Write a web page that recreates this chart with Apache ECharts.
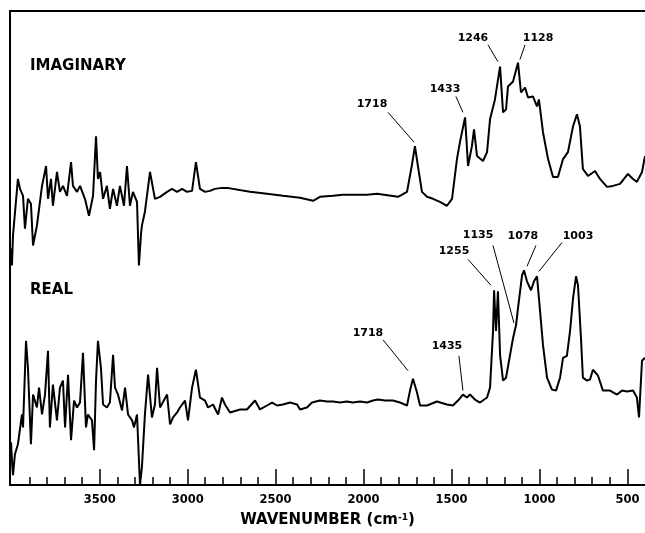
<!DOCTYPE html>
<html><head><meta charset="utf-8">
<script src="https://cdn.jsdelivr.net/npm/echarts/dist/echarts.min.js"></script>
<style>html,body{margin:0;padding:0;background:#fff}#c{width:645px;height:533px}</style>
</head><body><div id="c"></div>
<script>
// Wavenumber tick labels (cm-1)
const majorTicks = [3500, 3000, 2500, 2000, 1500, 1000, 500];
const minorTicks = [3900,3800,3700,3600,3400,3300,3200,3100,2900,2800,2700,2600,2400,2300,2200,2100,1900,1800,1700,1600,1400,1300,1200,1100,900,800,700,600];

// IMAGINARY trace: wavenumber and relative intensity
const imagWn = [4004,3999,3993,3982,3965,3953,3936,3925,3908,3891,
3879,3857,3828,3805,3794,3777,3766,3743,3726,3709,
3686,3663,3652,3629,3612,3584,3561,3538,3521,3510,
3498,3481,3459,3442,3424,3402,3385,3362,3345,3328,
3311,3288,3277,3265,3260,3243,3214,3186,3157,3117,
3089,3060,3032,3004,2975,2953,2930,2901,2873,2845,
2805,2776,2646,2549,2458,2361,2287,2248,2174,2117,
1980,1924,1804,1753,1726,1708,1691,1668,1639,1605,
1566,1526,1497,1469,1452,1423,1406,1384,1372,1355,
1321,1298,1281,1253,1224,1207,1190,1179,1150,1122,
1105,1082,1065,1037,1014,1003,980,951,923,895,
866,838,809,787,770,753,724,684,656,616,
582,542,497,468,446,417,400];
const imagVal = [238,221,251,253,308,298,291,258,288,283,
241,261,301,321,288,308,281,315,295,301,
291,325,301,295,301,288,271,291,351,308,
315,288,301,278,298,281,301,281,321,281,
295,285,221,253,261,275,315,288,290,295,
298,295,298,295,296,325,298,295,296,298,
299,299,295,293,291,289,286,290,291,292,
292,293,290,295,321,341,321,295,290,288,
285,281,288,328,345,370,321,341,358,331,
326,335,368,388,421,375,378,401,406,425,
395,400,390,391,381,388,355,328,310,310,
328,335,361,373,361,318,311,316,308,300,
301,303,313,308,305,315,331];

// REAL trace
const realWn = [4004,3999,3993,3982,3965,3942,3936,3919,3908,3891,
3879,3857,3845,3828,3811,3794,3783,3766,3743,3726,
3709,3697,3680,3663,3646,3629,3612,3595,3578,3567,
3544,3532,3521,3510,3493,3481,3459,3442,3424,3413,
3396,3373,3356,3339,3316,3305,3288,3271,3260,3243,
3225,3203,3186,3174,3157,3117,3100,3083,3060,3044,
3015,2998,2975,2953,2930,2901,2884,2856,2827,2805,
2788,2759,2702,2663,2617,2589,2549,2520,2492,2458,
2418,2378,2361,2322,2293,2248,2208,2174,2134,2095,
2060,2020,1980,1946,1918,1878,1833,1793,1753,1736,
1719,1696,1679,1639,1583,1526,1492,1463,1435,1412,
1395,1367,1338,1298,1281,1264,1258,1247,1236,1224,
1207,1190,1173,1150,1133,1122,1099,1088,1071,1048,
1031,1014,1003,980,957,929,906,883,866,844,
826,809,792,781,764,753,730,713,696,667,
639,599,559,531,503,468,446,434,417,400];
const realVal = [43,25,10,31,41,71,58,145,118,41,
91,78,98,71,91,135,58,101,65,98,
105,58,111,45,85,78,83,133,58,71,
65,35,105,145,118,81,78,83,131,98,
91,75,98,71,65,58,71,0,18,71,
111,68,81,118,78,91,61,68,73,78,
85,65,98,116,88,85,78,81,71,88,
81,73,76,76,85,76,80,83,80,81,
83,81,76,78,83,85,84,84,83,84,
83,84,83,85,86,85,85,83,80,95,
107,93,80,80,84,81,80,85,91,88,
91,86,83,88,98,155,196,155,195,131,
105,108,125,148,161,178,211,216,205,196,
205,210,188,141,108,96,95,108,128,130,
155,188,210,201,148,108,105,106,116,110,
95,95,91,95,94,95,88,68,125,128];

// Peak annotations (text, anchor in data units, leader line in data units)
const annText = ['1718','1433','1246','1128','1718','1435','1255','1135','1078','1003'];
const annTextAt = [[1952,383],[1537,398],[1378,450],[1008,450],[1975,153],[1526,140],[1486,235],[1349,251],[1094,250],[781,250]];
const annLeader = [[[1861,375],[1713,345]],[[1475,391],[1435,375]],[[1293,443],[1236,426]],[[1082,443],[1111,428]],
  [[1889,146],[1747,115]],[[1458,130],[1435,95]],[[1406,227],[1276,201]],[[1264,241],[1145,163]],[[1020,241],[1071,220]],[[872,244],[1003,215]]];

const traceNames = ['IMAGINARY', 'REAL'];

const FONT = '"DejaVu Sans", "Liberation Sans", sans-serif';
const INK = '#000';
const zip = (a, b) => a.map((v, i) => [v, b[i]]);

const chart = echarts.init(document.getElementById('c'), null, {renderer: 'canvas'});
const xBase = {type: 'value', min: 400, max: 4010, inverse: true, splitLine: {show: false}};
chart.setOption({
  animation: false,
  backgroundColor: '#fff',
  grid: {left: 10, right: 0, top: 11, bottom: 45},
  xAxis: [
    Object.assign({}, xBase, {
      position: 'bottom',
      axisLine: {show: true, lineStyle: {color: INK, width: 2}},
      axisTick: {show: true, inside: true, length: 16, customValues: majorTicks, lineStyle: {color: INK, width: 1.5}},
      axisLabel: {customValues: majorTicks, formatter: v => String(v), color: INK, fontFamily: FONT, fontWeight: 'bold', fontSize: 11.5, margin: 9},
      name: '{a|WAVENUMBER (cm}{s|-1}{a|)}',
      nameLocation: 'middle', nameGap: 28,
      nameTextStyle: {rich: {
        a: {fontFamily: FONT, fontWeight: 'bold', fontSize: 15, color: INK},
        s: {fontFamily: FONT, fontWeight: 'bold', fontSize: 9, color: INK, verticalAlign: 'top'}
      }}
    }),
    Object.assign({}, xBase, {
      position: 'bottom',
      axisLine: {show: false},
      axisTick: {show: true, inside: true, length: 8, customValues: minorTicks, lineStyle: {color: INK, width: 1.5}},
      axisLabel: {show: false}
    }),
    Object.assign({}, xBase, {
      position: 'top',
      axisLine: {show: true, lineStyle: {color: INK, width: 2}},
      axisTick: {show: false}, axisLabel: {show: false}
    })
  ],
  yAxis: {type: 'value', min: 0, max: 477,
    axisLine: {show: true, lineStyle: {color: INK, width: 2}},
    axisTick: {show: false}, axisLabel: {show: false}, splitLine: {show: false}},
  graphic: [
    {type: 'text', x: 30, y: 66, style: {text: traceNames[0], font: 'bold 15px ' + FONT, fill: INK, verticalAlign: 'middle'}},
    {type: 'text', x: 30, y: 290, style: {text: traceNames[1], font: 'bold 15px ' + FONT, fill: INK, verticalAlign: 'middle'}}
  ],
  series: [
    {type: 'line', name: traceNames[0], data: zip(imagWn, imagVal), symbol: 'none',
      lineStyle: {color: INK, width: 2}, z: 3},
    {type: 'line', name: traceNames[1], data: zip(realWn, realVal), symbol: 'none',
      lineStyle: {color: INK, width: 2}, z: 3},
    {type: 'lines', coordinateSystem: 'cartesian2d', data: annLeader.map(c => ({coords: c})),
      lineStyle: {color: INK, width: 1, opacity: 1}, symbol: 'none', silent: true, z: 4},
    {type: 'scatter', data: annText.map((t, i) => ({name: t, value: annTextAt[i]})), symbolSize: 0,
      itemStyle: {opacity: 1},
      label: {show: true, position: 'inside', formatter: '{b}', color: INK, opacity: 1, textBorderWidth: 0, fontFamily: FONT, fontWeight: 'bold', fontSize: 11},
      silent: true, z: 5}
  ]
});
</script>
</body></html>
